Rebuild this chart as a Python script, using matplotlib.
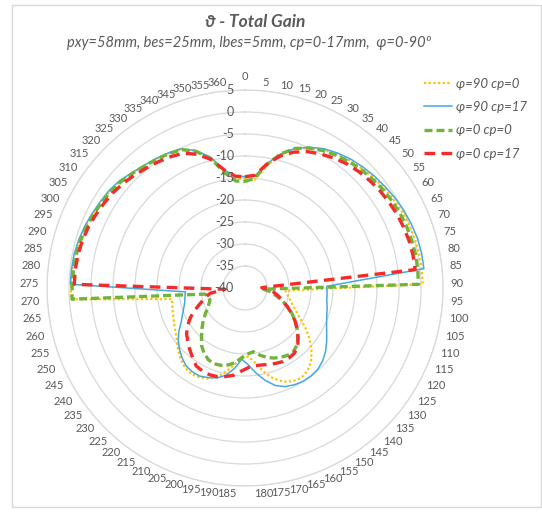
import matplotlib

matplotlib.use("Agg")
import matplotlib.pyplot as plt
import numpy as np
from matplotlib.patches import Rectangle

plt.rcParams["font.family"] = ["Lato", "DejaVu Sans"]

# categories: theta 0..360 step 5 (73 spokes, 360 sits next to 0)
theta_deg = list(range(0, 361, 5))

# gain in dB, one value per theta category
gain_phi90_cp0 = [
    -15.3, -15.4, -12.0, -8.7, -6.4, -5.0, -3.9, -3.1, -2.5, -2.0,
    -1.5, -1.1, -0.7, -0.3, 0.0, 0.2, 0.3, 0.4, 0.4,
    -30.8, -30.3, -29.6, -28.7, -27.5, -25.9, -23.6, -21.3, -19.3, -17.5,
    -16.4, -15.9, -16.2, -17.0, -18.5, -20.6, -23.0, -24.4, -24.0, -22.6,
    -20.7, -18.9, -17.8, -17.2, -17.0, -17.3, -18.2, -19.2, -20.3, -21.2,
    -21.8, -22.3, -22.7, -23.0, -23.2,
    -0.3, -0.5, -0.55, -0.6, -0.85, -1.15, -1.55, -1.9, -2.2, -2.7,
    -3.4, -4.0, -4.4, -4.8, -5.3, -6.9, -9.4, -13.0, -15.0,
]
gain_phi90_cp17 = [
    -14.7, -14.5, -11.4, -8.5, -6.3, -4.8, -3.6, -2.8, -2.1, -1.6,
    -1.1, -0.7, -0.2, 0.2, 0.5, 0.8, 0.9, 0.9,
    -21.4, -21.3, -21.2, -20.8, -20.4, -19.8, -18.9, -17.8, -16.7, -15.8,
    -15.2, -15.0, -15.0, -15.3, -15.8, -16.8, -18.5, -20.5, -22.5, -23.8,
    -21.6, -19.7, -18.6, -18.0, -17.5, -17.5, -17.8, -18.6, -19.6, -20.7,
    -22.0, -23.5, -24.5, -25.3, -25.9, -26.2, -26.4,
    -0.3, -0.35, -0.4, -0.65, -0.95, -1.35, -1.7, -2.0, -2.5, -3.3,
    -3.9, -4.3, -4.7, -5.2, -6.8, -9.2, -12.8, -14.4,
]
gain_phi0_cp0 = [
    -15.8, -15.0, -11.6, -8.5, -6.3, -5.0, -4.1, -3.4, -2.8, -2.3,
    -1.9, -1.5, -1.2, -0.9, -0.7, -0.6, -0.5, -0.5, -0.6,
    -35.8, -34.0, -32.8, -31.1, -29.6, -27.9, -26.4, -24.9, -23.5, -22.4,
    -21.8, -21.9, -22.3, -22.8, -23.5, -24.4, -25.4, -25.0, -24.2, -22.9,
    -22.1, -21.6, -21.4, -21.7, -22.5, -23.6, -25.2, -26.6, -27.9, -29.2,
    -30.3, -31.1, -31.6, -31.4, -30.8,
    -0.6, -0.7, -0.8, -0.9, -1.1, -1.4, -1.7, -2.1, -2.4, -2.9,
    -3.5, -4.1, -4.5, -4.9, -5.4, -7.0, -9.6, -13.5, -15.6,
]
gain_phi0_cp17 = [
    -14.7, -14.3, -11.5, -9.0, -7.2, -5.9, -5.0, -4.2, -3.5, -3.0,
    -2.6, -2.2, -1.9, -1.6, -1.4, -1.2, -1.1, -1.1,
    -36.2, -34.4, -33.3, -32.2, -31.0, -29.6, -28.0, -26.4, -24.9, -23.5,
    -22.0, -21.4, -21.2, -21.2, -21.5, -21.8, -22.1, -22.2, -21.9, -21.1,
    -20.0, -19.4, -18.9, -18.7, -18.8, -19.1, -20.2, -21.2, -22.2, -23.1,
    -24.4, -25.9, -27.7, -29.4, -30.7, -32.0, -35.5,
    -1.2, -1.2, -1.3, -1.5, -1.8, -2.2, -2.6, -3.0, -3.5, -4.1,
    -4.7, -5.2, -5.7, -6.3, -7.7, -9.8, -12.8, -14.5,
]

series_labels = ["φ=90 cp=0", "φ=90 cp=17", "φ=0 cp=0", "φ=0 cp=17"]

txt_color = "#595959"
grid_color = "#D9D9D9"

W, H = 542, 513
fig = plt.figure(figsize=(W / 100, H / 100), dpi=100)

# chart area border
fig.patches.append(Rectangle((12 / W, 6 / H), 529 / W, 502 / H, transform=fig.transFigure,
                             fill=False, edgecolor=grid_color, linewidth=1))

cx, cy, R = 245, 288, 198
ax = fig.add_axes([(cx - R) / W, (H - cy - R) / H, 2 * R / W, 2 * R / H], projection="polar")
ax.set_theta_zero_location("N")
ax.set_theta_direction(-1)
ax.set_ylim(-40, 5)

n = len(theta_deg)
ang = np.arange(n) * 2 * np.pi / n
ang_c = np.append(ang, ang[0])


def closed(v):
    return np.append(v, v[0])


ax.plot(ang_c, closed(gain_phi90_cp0), color="#FFC000", lw=1.6, ls=(0, (1, 1.1)), label=series_labels[0])
ax.plot(ang_c, closed(gain_phi90_cp17), color="#45A8E0", lw=1.1, label=series_labels[1])
ax.plot(ang_c, closed(gain_phi0_cp0), color="#70B43C", lw=2.4, ls=(0, (2.4, 1.2)), label=series_labels[2])
ax.plot(ang_c, closed(gain_phi0_cp17), color="#F52A2A", lw=2.4, ls=(0, (3.2, 1.9)), label=series_labels[3])

# grid circles only, no spokes
ax.set_yticks(list(range(-35, 6, 5)))
ax.set_yticklabels([])
ax.yaxis.grid(True, color=grid_color, lw=0.9)
ax.set_xticks([])
ax.xaxis.grid(False)
ax.spines["polar"].set_color(grid_color)
ax.spines["polar"].set_linewidth(0.9)

# category labels: anchored just outside the ring, text grows away from it
for a, t in zip(ang, theta_deg):
    s, c = np.sin(a), np.cos(a)
    if abs(s) < 0.02:
        ha, va = "center", ("bottom" if c > 0 else "top")
    else:
        ha, va = ("left" if s > 0 else "right"), "center"
    ax.text(a, 6.8, str(t), ha=ha, va=va, fontsize=8, color=txt_color, clip_on=False)

# value labels along the top axis
for v in range(-40, 6, 5):
    ax.annotate(str(v), xy=(0, v), xytext=(-11, 0), textcoords="offset pixels",
                ha="right", va="center", fontsize=9, color=txt_color, annotation_clip=False)

fig.text(255 / W, 1 - 22 / H, "ϑ - Total Gain", ha="center", va="center",
         fontsize=12.5, fontweight="bold", fontstyle="italic", color=txt_color)
fig.text(249 / W, 1 - 43 / H, "pxy=58mm, bes=25mm, lbes=5mm, cp=0-17mm,  φ=0-90º",
         ha="center", va="center", fontsize=10.5, fontstyle="italic", color=txt_color)

leg = fig.legend(loc="upper left", bbox_to_anchor=(412 / W, 1 - 66 / H), frameon=False,
                 handlelength=2.1, labelspacing=0.85, handletextpad=0.3,
                 prop={"size": 9.5, "style": "italic"})
for t in leg.get_texts():
    t.set_color(txt_color)

fig.savefig("out.png", dpi=100)
